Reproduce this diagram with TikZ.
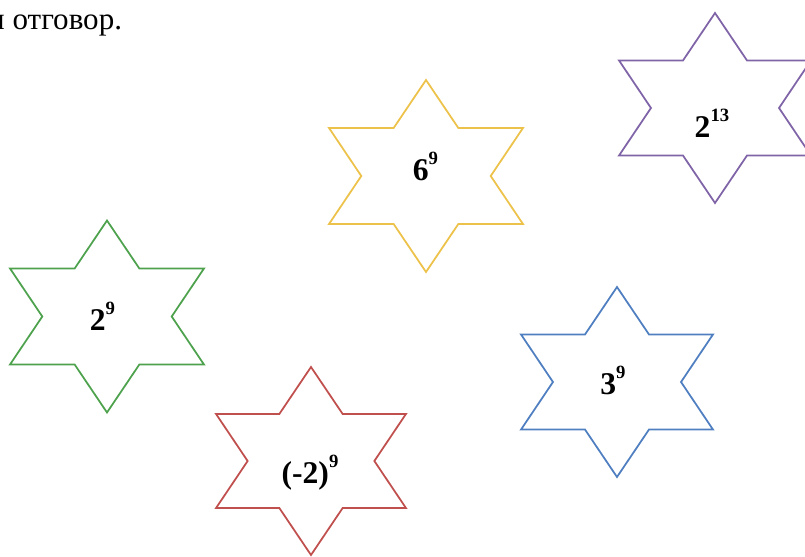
\documentclass[tikz,border=0pt]{standalone}
\usepackage{fontspec}
\setmainfont{Liberation Serif}
\definecolor{stargreen}{HTML}{4EA24E}
\definecolor{starred}{HTML}{C0504D}
\definecolor{starblue}{HTML}{4F7FC0}
\definecolor{staryellow}{HTML}{EDC24A}
\definecolor{starpurple}{HTML}{8064A8}
\newcommand{\powlabel}[2]{#1\raisebox{13pt}{\fontsize{16}{16}\selectfont\bfseries #2}}

\begin{document}
\begin{tikzpicture}[x=0.03cm,y=-0.03cm,starline/.style={line width=1.5pt},power/.style={anchor=base,inner sep=0pt,font=\fontsize{27}{30}\selectfont\bfseries},sixstar/.pic={\draw[pic actions] (0,-1) -- (0.337,-0.5) -- (1.01,-0.5) -- (0.674,0) -- (1.01,0.5) -- (0.337,0.5) -- (0,1) -- (-0.337,0.5) -- (-1.01,0.5) -- (-0.674,0) -- (-1.01,-0.5) -- (-0.337,-0.5) -- cycle;}]
\clip (0,0) rectangle (805,557);
\node[anchor=base west,inner sep=0pt,font=\fontsize{26.5}{30}\selectfont] (caption) at (-12,29) {и отговор.};
\pic[starline,draw=stargreen,scale=96] (green) at (107,316.5) {sixstar};
\pic[starline,draw=starred,scale=94] (red) at (311,461) {sixstar};
\pic[starline,draw=starblue,scale=95] (blue) at (617,382) {sixstar};
\pic[starline,draw=staryellow,scale=96] (yellow) at (426,176) {sixstar};
\pic[starline,draw=starpurple,scale=95] (purple) at (715,108) {sixstar};
\node[power] (twonine) at (102.5,330) {\powlabel{2}{9}};
\node[power] (minustwo) at (310,483) {\powlabel{(-2)}{9}};
\node[power] (threenine) at (613,394) {\powlabel{3}{9}};
\node[power] (sixnine) at (425.5,180) {\powlabel{6}{9}};
\node[power] (twothirteen) at (712,137) {\powlabel{2}{13}};
\end{tikzpicture}
\end{document}
